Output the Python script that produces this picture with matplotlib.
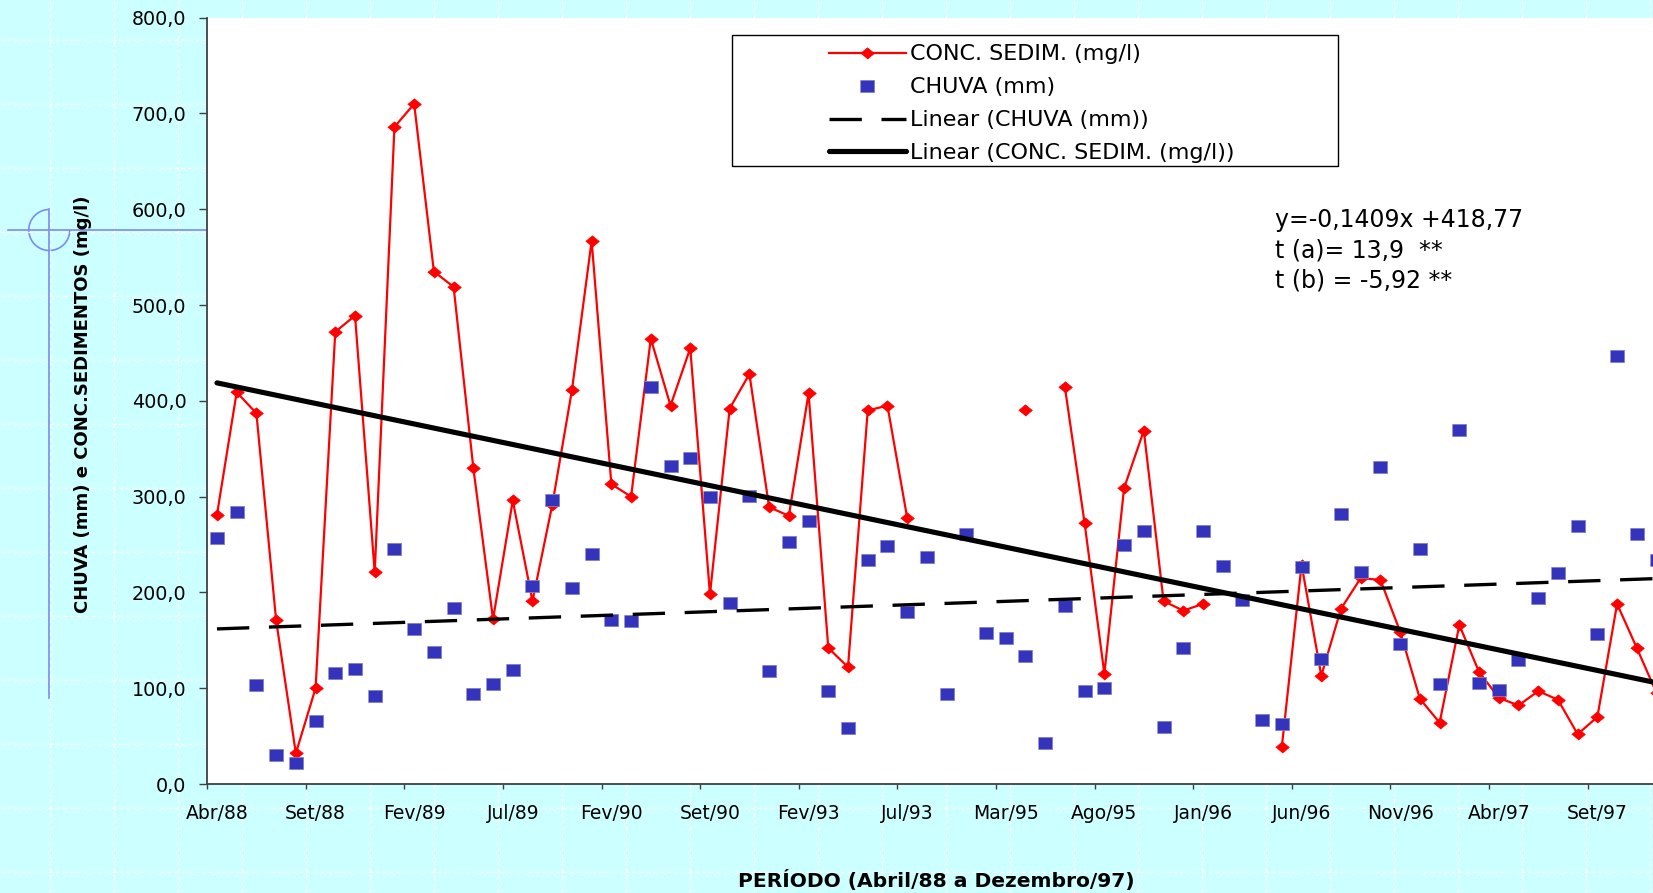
import numpy as np
import matplotlib
matplotlib.use("Agg")
import matplotlib.pyplot as plt
from matplotlib.patches import Rectangle, Arc
from matplotlib.ticker import FuncFormatter

# ---------------------------------------------------------------------------
# Data: monthly samples, April/1988 to December/1997 (nan = no sample)
# ---------------------------------------------------------------------------
conc_sedim = [
    281, 409, 387, 171, 32, 100, 472, 489, 221, 686,
    710, 535, 519, 330, 172, 296, 191, 291, 411, 567,
    313, 300, 465, 395, 455, 198, 392, 428, 289, 280,
    408, 142, 122, 390, 395, 278, np.nan, np.nan, np.nan, np.nan,
    np.nan, 390, np.nan, 414, 272, 115, 309, 369, 191, 181,
    188, np.nan, np.nan, np.nan, 39, 229, 113, 183, 215, 213,
    159, 89, 64, 166, 117, 90, 82, 97, 88, 52,
    70, 188, 142, 95,
]

chuva = [
    257, 284, 103, 30, 22, 66, 116, 120, 92, 245,
    162, 138, 184, 94, 104, 119, 207, 297, 205, 240,
    171, 170, 414, 332, 340, 300, 189, 301, 118, 253,
    275, 97, 58, 234, 248, 180, 237, 94, 261, 158,
    152, 134, 43, 186, 97, 100, 250, 264, 59, 142,
    264, 228, 192, 67, 63, 227, 130, 282, 221, 331,
    146, 245, 104, 370, 105, 98, 129, 194, 220, 269,
    157, 447, 261, 234,
]

tick_labels = ["Abr/88", "Set/88", "Fev/89", "Jul/89", "Fev/90", "Set/90",
               "Fev/93", "Jul/93", "Mar/95", "Ago/95", "Jan/96", "Jun/96",
               "Nov/96", "Abr/97", "Set/97"]
label_every = 5

# Regression of sediment concentration on time (x in days)
reg_slope = -0.1409
reg_intercept = 418.77
t_a = 13.9
t_b = -5.92
days_per_sample = 30.44

# ---------------------------------------------------------------------------
# Figure layout (pixel based)
# ---------------------------------------------------------------------------
W, H, DPI = 1653, 893, 100
BG = "#CCFFFF"
plt.rcParams["font.family"] = ["DejaVu Sans"]

fig = plt.figure(figsize=(W / DPI, H / DPI), dpi=DPI, facecolor=BG)


def fx(px):
    return px / W


def fy(py):
    return 1 - py / H


def dec(v, nd):
    return f"{v:.{nd}f}".replace(".", ",")


# page background: dashed white grid and the drawing anchor mark
bg = fig.add_axes([0, 0, 1, 1], zorder=0)
bg.set_xlim(0, W)
bg.set_ylim(H, 0)
bg.axis("off")
bg.patch.set_visible(False)
for gx in np.arange(50, W, 64):
    bg.plot([gx, gx], [0, H], color="white", lw=1.0, ls=(0, (3, 2)))
for gy in np.arange(40, H, 64):
    bg.plot([0, W], [gy, gy], color="white", lw=1.0, ls=(0, (3, 2)))

anchor_c = "#7B8BF5"
bg.plot([8, 207], [230, 230], color=anchor_c, lw=1.2)
bg.plot([49.3, 49.3], [209, 698], color=anchor_c, lw=1.2)
bg.add_patch(Arc((49.3, 230), 41, 41, theta1=0, theta2=270,
                 color=anchor_c, lw=1.2))

# plot area
ax_left, ax_top, ax_bottom, ax_right = 207.1, 17.7, 784.0, 1666.4
ax = fig.add_axes([fx(ax_left), fy(ax_bottom),
                   (ax_right - ax_left) / W, (ax_bottom - ax_top) / H],
                  zorder=1)
ax.set_facecolor("white")

n = len(conc_sedim)
x = np.arange(n)
conc = np.array(conc_sedim, dtype=float)
rain = np.array(chuva, dtype=float)

diamond = [(-1.2, 0), (0, 1), (1.2, 0), (0, -1)]
box = [(-1.2, -1), (1.2, -1), (1.2, 1), (-1.2, 1)]

ax.plot(x, conc, color="#FF0000", lw=1.6, marker=diamond, ms=9.8,
        mfc="#FF0000", mec="#FF0000", mew=0.5, zorder=3,
        label="CONC. SEDIM. (mg/l)")
ax.plot(x, rain, ls="none", marker=box, ms=9.6, mfc="#3333BB",
        mec="#8080C8", mew=0.6, zorder=4, label="CHUVA (mm)")

# linear trends
ok = ~np.isnan(rain)
rain_coef = np.polyfit(x[ok], rain[ok], 1)
ax.plot(x, np.polyval(rain_coef, x), color="black", lw=2.4,
        dashes=(9.7, 5.9), zorder=5, label="Linear (CHUVA (mm))")
conc_trend = reg_intercept + reg_slope * days_per_sample * x
ax.plot(x, conc_trend, color="black", lw=3.7, solid_capstyle="round",
        zorder=5, label="Linear (CONC. SEDIM. (mg/l))")

ax.set_xlim(-0.5, n - 0.5)
ax.set_ylim(0, 800)

for s in ("top", "right"):
    ax.spines[s].set_visible(False)
for s in ("left", "bottom"):
    ax.spines[s].set_color("#404040")
    ax.spines[s].set_linewidth(1.3)

ax.set_yticks(np.arange(0, 801, 100))
ax.yaxis.set_major_formatter(FuncFormatter(lambda v, p: dec(v, 1)))
ax.tick_params(axis="y", direction="out", length=5.8, width=1.0,
               color="#404040", pad=9.0, labelsize=13.8)

label_pos = np.arange(len(tick_labels)) * label_every
ax.set_xticks(np.arange(-0.5, n - 0.5, label_every), labels=[])
ax.set_xticks(label_pos, labels=tick_labels, minor=True)
ax.tick_params(axis="x", which="major", direction="out", length=3.8,
               width=1.0, color="#404040")
ax.tick_params(axis="x", which="minor", length=0, pad=14.5, labelsize=13.5)

ax.set_ylabel("CHUVA (mm) e CONC.SEDIMENTOS (mg/l)", fontsize=13,
              fontweight="bold")
ax.yaxis.label.set_va("center")
ax.yaxis.set_label_coords((83 - ax_left) / (ax_right - ax_left),
                          (ax_bottom - 404) / (ax_bottom - ax_top))
ax.set_xlabel("PERÍODO (Abril/88 a Dezembro/97)", fontsize=14.6,
              fontweight="bold")
ax.xaxis.label.set_va("center")
ax.xaxis.set_label_coords(0.5, -(880 - ax_bottom) / (ax_bottom - ax_top))

# legend box and entries
ax.add_patch(Rectangle((fx(732), fy(166)), 606 / W, 131 / H,
                       transform=fig.transFigure, fc="white", ec="black",
                       lw=1.0, zorder=6, clip_on=False))
handles, labels = ax.get_legend_handles_labels()
leg = ax.legend(handles, labels, loc="upper left",
                bbox_to_anchor=(fx(828.6), fy(44.5)),
                bbox_transform=fig.transFigure, frameon=False,
                fontsize=16, handlelength=3.5, handletextpad=0.16,
                labelspacing=0.58, borderpad=0, borderaxespad=0,
                numpoints=1)
leg.set_zorder(7)

# regression statistics
eq_text = (f"y={dec(reg_slope, 4)}x +{dec(reg_intercept, 2)}\n"
           f"t (a)= {dec(t_a, 1)}  **\n"
           f"t (b) = {dec(t_b, 2)} **")
fig.text(fx(1274.6), fy(208), eq_text, fontsize=17, va="top", ha="left",
         linespacing=1.33, zorder=8)

fig.savefig("out.png", dpi=DPI, facecolor=BG)
